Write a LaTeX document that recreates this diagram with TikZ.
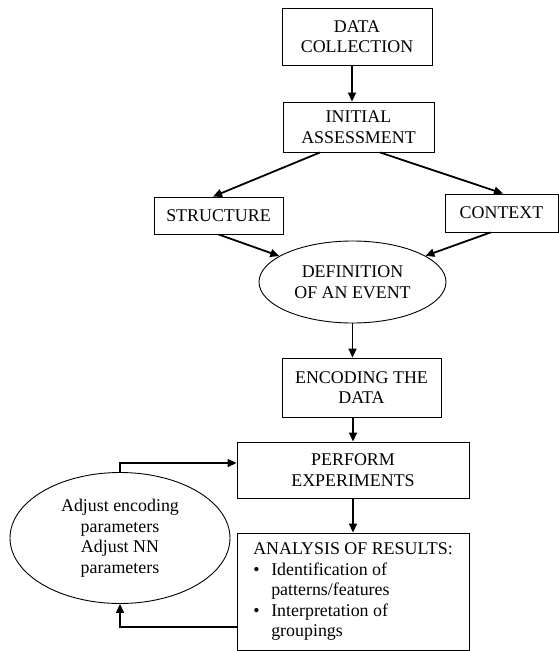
\documentclass[tikz,border=0pt]{standalone}
\usepackage{fontspec}
\setmainfont{Liberation Serif}
\usetikzlibrary{arrows.meta,shapes.geometric}

\begin{document}
\begin{tikzpicture}[
  x=1pt, y=-1pt,
  >={Triangle[length=9pt,width=8pt]},
  block/.style = {draw, line width=0.9pt, inner sep=0pt, align=center, font=\fontsize{17.9}{20.5}\selectfont},
  oval/.style  = {ellipse, draw, line width=0.9pt, inner sep=0pt, align=center, font=\fontsize{17.9}{20.5}\selectfont},
  line/.style  = {->, line width=1.8pt},
  back/.style  = {->, line width=1.4pt}
]
\useasboundingbox (0,0) rectangle (559,651);

% Nodes
\node[block, minimum width=150pt, minimum height=57pt] (collect) at (357,36.5) {DATA\\COLLECTION};
\node[block, minimum width=151pt, minimum height=50pt] (assess) at (358.5,127) {INITIAL\\ASSESSMENT};
\node[block, minimum width=129pt, minimum height=37pt] (struct) at (218.5,215.5) {STRUCTURE};
\node[block, minimum width=113pt, minimum height=38pt] (context) at (501.5,213) {CONTEXT};
\node[oval, minimum width=187pt, minimum height=82pt] (event) at (352.5,282) {DEFINITION\\OF AN EVENT};
\node[block, minimum width=159pt, minimum height=59pt] (encode) at (361.5,387.5) {ENCODING THE\\DATA};
\node[block, minimum width=232pt, minimum height=56pt] (perform) at (353,470) {PERFORM\\EXPERIMENTS};
\node[block, minimum width=232pt, minimum height=117pt] (results) at (353,591.5) {%
  \begin{tabular}{@{}p{18pt}@{}l@{}}
    \multicolumn{2}{@{}l@{}}{ANALYSIS OF RESULTS:}\\
    \textbullet & Identification of\\
                & patterns/features\\
    \textbullet & Interpretation of\\
                & groupings
  \end{tabular}};

% Feedback loop
\node[oval, minimum width=220pt, minimum height=131pt] (adjust) at (120,538) {Adjust encoding\\parameters\\Adjust NN\\parameters};

% Connections (main path)
\draw[line] ([xshift=-5pt]collect.south) -- ([xshift=-5pt]collect.south |- assess.north);
\draw[line] ([xshift=-38.5pt]assess.south) -- ([xshift=-5.5pt]struct.north);
\draw[line] ([xshift=21.5pt]assess.south) -- ([xshift=1.5pt]context.north);
\draw[line] (struct.south) -- (event);
\draw[line] ([xshift=-11pt]context.south) -- (event);
\draw[line] (event.south) -- (event.south |- encode.north);
\draw[line] (perform.north |- encode.south) -- (perform);
\draw[line] (perform) -- (results);

% Back to the experiments
\draw[back] ([yshift=-35.5pt]results.west) -| (adjust.south);
\draw[back] (adjust.north) |- ([yshift=7pt]perform.west);

\end{tikzpicture}
\end{document}
